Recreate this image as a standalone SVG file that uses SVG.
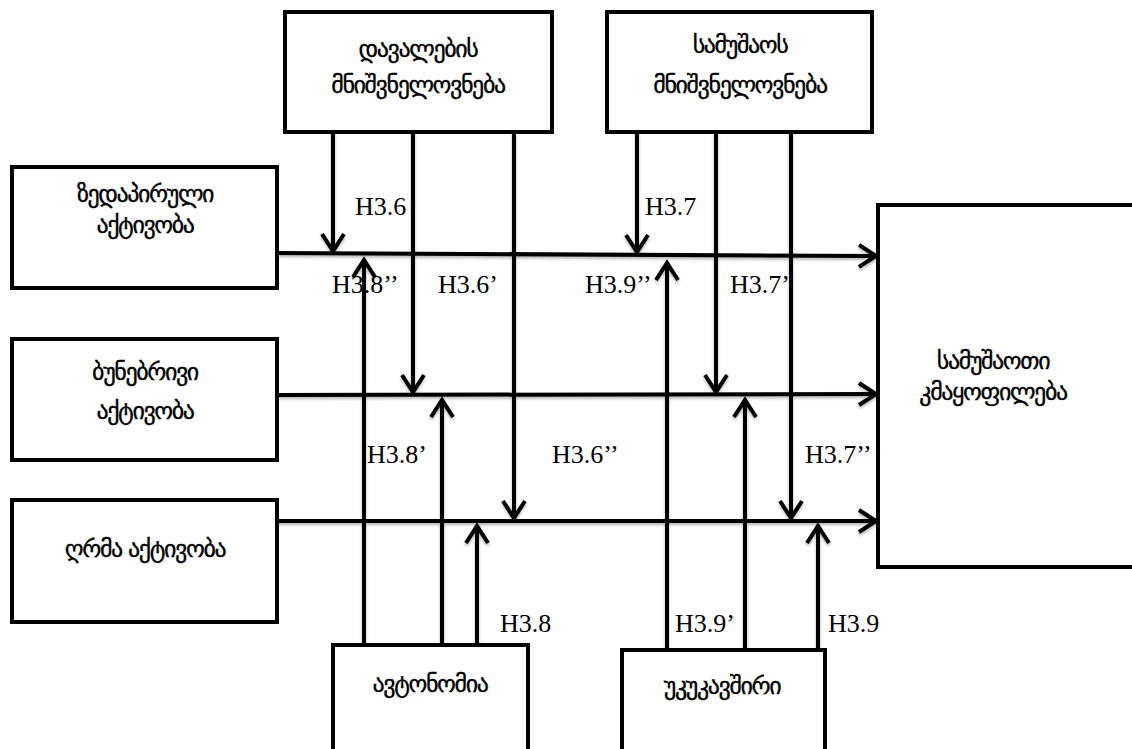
<svg xmlns="http://www.w3.org/2000/svg" width="1132" height="749" viewBox="0 0 1132 749">
  <defs>
    <style>
      .box { fill: #ffffff; stroke: #000000; stroke-width: 4; }
      .ka { font-family: "DejaVu Sans", "DejaVu Serif", sans-serif; font-size: 24px; letter-spacing: -1.4px; fill: #000000; stroke: #000000; stroke-width: 0.35; text-anchor: middle; }
      .lbl { font-family: "Liberation Serif", "DejaVu Serif", serif; font-size: 26px; fill: #000000; }
      .wire { fill: none; stroke: #000000; stroke-width: 4; marker-end: url(#head); }
    </style>
    <!-- open chevron arrowhead -->
    <marker id="head" markerUnits="userSpaceOnUse" viewBox="-24 -15 28 30" refX="0" refY="0" markerWidth="28" markerHeight="30" orient="auto" overflow="visible">
      <path d="M-18,-11 L-1,0 L-18,11" fill="none" stroke="#000000" stroke-width="4" stroke-linejoin="miter"/>
    </marker>
    <filter id="shadow" x="-5%" y="-5%" width="110%" height="110%">
      <feDropShadow dx="0" dy="2" stdDeviation="1.5" flood-color="#000000" flood-opacity="0.3"/>
    </filter>
  </defs>

  <rect width="1132" height="749" fill="#ffffff"/>

  <!-- connectors -->
  <g id="connectors" filter="url(#shadow)">
    <!-- activity lines into job satisfaction -->
    <path class="wire" d="M277,253 L877,256"/>
    <path class="wire" d="M277,395 L877,394"/>
    <path class="wire" d="M277,521 L877,521"/>
    <!-- task significance -->
    <path class="wire" d="M333,132 L333,252"/>
    <path class="wire" d="M413,132 L413,393"/>
    <path class="wire" d="M514,132 L514,519"/>
    <!-- work significance -->
    <path class="wire" d="M637,132 L637,253"/>
    <path class="wire" d="M716,132 L716,393"/>
    <path class="wire" d="M791,132 L791,519"/>
    <!-- autonomy -->
    <path class="wire" d="M364,645 L364,259"/>
    <path class="wire" d="M442,645 L442,399"/>
    <path class="wire" d="M477,645 L477,525"/>
    <!-- feedback -->
    <path class="wire" d="M667,650 L667,262"/>
    <path class="wire" d="M745,650 L745,399"/>
    <path class="wire" d="M818,650 L818,525"/>
  </g>

  <!-- hypothesis labels -->
  <g id="labels">
    <text class="lbl" x="355" y="215">H3.6</text>
    <text class="lbl" x="645" y="215">H3.7</text>
    <text class="lbl" x="332" y="293">H3.8’’</text>
    <text class="lbl" x="438" y="293">H3.6’</text>
    <text class="lbl" x="585" y="293">H3.9’’</text>
    <text class="lbl" x="730" y="293">H3.7’</text>
    <text class="lbl" x="367" y="463">H3.8’</text>
    <text class="lbl" x="552" y="463">H3.6’’</text>
    <text class="lbl" x="805" y="463">H3.7’’</text>
    <text class="lbl" x="500" y="632">H3.8</text>
    <text class="lbl" x="675" y="632">H3.9’</text>
    <text class="lbl" x="828" y="632">H3.9</text>
  </g>

  <g id="task-significance">
    <rect class="box" x="285" y="12" width="267" height="120"/>
    <text class="ka" x="418" y="57">დავალების</text>
    <text class="ka" x="418" y="93">მნიშვნელოვნება</text>
  </g>

  <g id="work-significance">
    <rect class="box" x="607" y="12" width="265" height="120"/>
    <text class="ka" x="740" y="53">სამუშაოს</text>
    <text class="ka" x="740" y="93">მნიშვნელოვნება</text>
  </g>

  <g id="surface-activity">
    <rect class="box" x="12" y="167" width="265" height="121"/>
    <text class="ka" x="145" y="202">ზედაპირული</text>
    <text class="ka" x="145" y="233">აქტივობა</text>
  </g>

  <g id="natural-activity">
    <rect class="box" x="12" y="339" width="265" height="121"/>
    <text class="ka" x="145" y="380">ბუნებრივი</text>
    <text class="ka" x="145" y="419">აქტივობა</text>
  </g>

  <g id="deep-activity">
    <rect class="box" x="12" y="500" width="265" height="122"/>
    <text class="ka" x="145" y="557">ღრმა აქტივობა</text>
  </g>

  <g id="job-satisfaction">
    <rect class="box" x="878" y="205" width="264" height="362"/>
    <text class="ka" x="993" y="369">სამუშაოთი</text>
    <text class="ka" x="993" y="400">კმაყოფილება</text>
  </g>

  <g id="autonomy">
    <rect class="box" x="333" y="645" width="195" height="120"/>
    <text class="ka" x="430" y="692">ავტონომია</text>
  </g>

  <g id="feedback">
    <rect class="box" x="622" y="650" width="203" height="120"/>
    <text class="ka" x="722" y="694">უკუკავშირი</text>
  </g>
</svg>
